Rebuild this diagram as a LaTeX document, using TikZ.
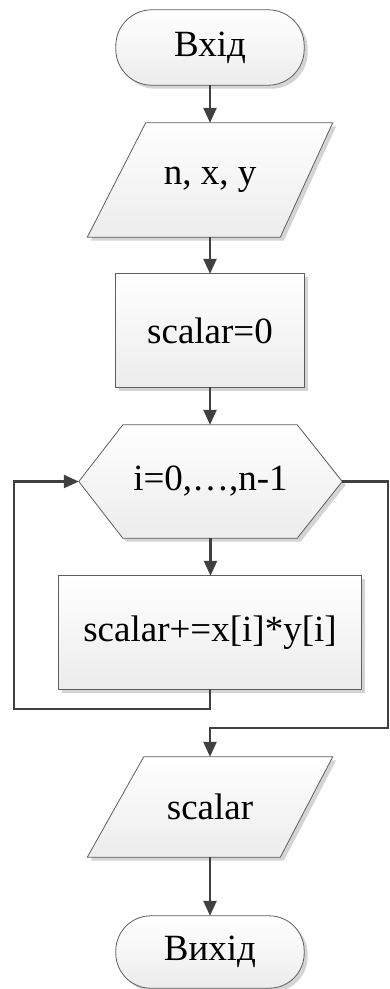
\documentclass[tikz,border=0pt]{standalone}
\usepackage{fontspec}
\setmainfont{Liberation Serif}
\usetikzlibrary{arrows.meta,shadows,backgrounds}

\definecolor{edgegray}{RGB}{95,95,95}
\definecolor{linegray}{RGB}{64,64,64}
\definecolor{fillbottom}{RGB}{236,236,236}
\definecolor{shadowgray}{RGB}{212,212,212}

\tikzset{
  % invisible frame that carries the text and the anchors of a block
  blockbox/.style={shape=rectangle, inner sep=0pt, draw=none,
    font=\fontsize{37}{41}\selectfont, text=black},
  % visible outline of a block, drawn behind its text
  blockshape/.style={draw=edgegray, line width=0.8pt,
    top color=white, bottom color=fillbottom,
    drop shadow={fill=shadowgray, opacity=1,
      shadow xshift=3.5pt, shadow yshift=-3.5pt}},
  flow/.style={draw=linegray, line width=2.4pt,
    -{Triangle[length=15pt,width=13pt]}},
}

\begin{document}
\begin{tikzpicture}[x=1pt,y=-1pt]
\useasboundingbox (0,0) rectangle (389,989);

% blocks
\node[blockbox, minimum width=188pt, minimum height=75pt]  (start) at (210,47.5)  {Вхід};
\node[blockbox, minimum width=245pt, minimum height=114pt] (input) at (210,180)   {n, x, y};
\node[blockbox, minimum width=188pt, minimum height=113pt] (init)  at (210,330.5) {scalar=0};
\node[blockbox, minimum width=263pt, minimum height=113pt] (loop)  at (210.5,481.5) {i=0,\dots,n-1};
\node[blockbox, minimum width=302pt, minimum height=113pt] (body)  at (210,632.5) {scalar+=x[i]*y[i]};
\node[blockbox, minimum width=245pt, minimum height=100pt] (output) at (210,807)  {scalar};
\node[blockbox, minimum width=188pt, minimum height=72pt]  (stop)  at (210,952)   {Вихід};

% outlines of the blocks
\begin{pgfonlayer}{background}
  \path[blockshape, rounded corners=36pt] (start.south west) rectangle (start.north east);
  \path[blockshape] (input.south west) -- ++(193,0) -- (input.north east) -- ++(-187,0) -- cycle;
  \path[blockshape] (init.south west) rectangle (init.north east);
  \path[blockshape] (loop.west) -- ([xshift=44pt]loop.north west) -- ([xshift=-45pt]loop.north east)
    -- (loop.east) -- ([xshift=-45pt]loop.south east) -- ([xshift=44pt]loop.south west) -- cycle;
  \path[blockshape] (body.south west) rectangle (body.north east);
  \path[blockshape] (output.south west) -- ++(193,0) -- (output.north east) -- ++(-189,0) -- cycle;
  \path[blockshape, rounded corners=35pt] (stop.south west) rectangle (stop.north east);
\end{pgfonlayer}

% turning points of the loop connectors
\coordinate (backturn) at (14,709);
\coordinate (exitturn) at (388,728);

% connectors
\draw[flow] (start.south) -- (input.north);
\draw[flow] (input.south) -- (init.north);
\draw[flow] (init.south) -- (init.south |- loop.north);
\draw[flow] (loop.south) -- (loop.south |- body.north);
\draw[flow] (body.south) |- (backturn) |- (loop.west);
\draw[flow] (loop.east) -| (exitturn) -| (output.north);
\draw[flow] (output.south) -- (stop.north);
\end{tikzpicture}
\end{document}
